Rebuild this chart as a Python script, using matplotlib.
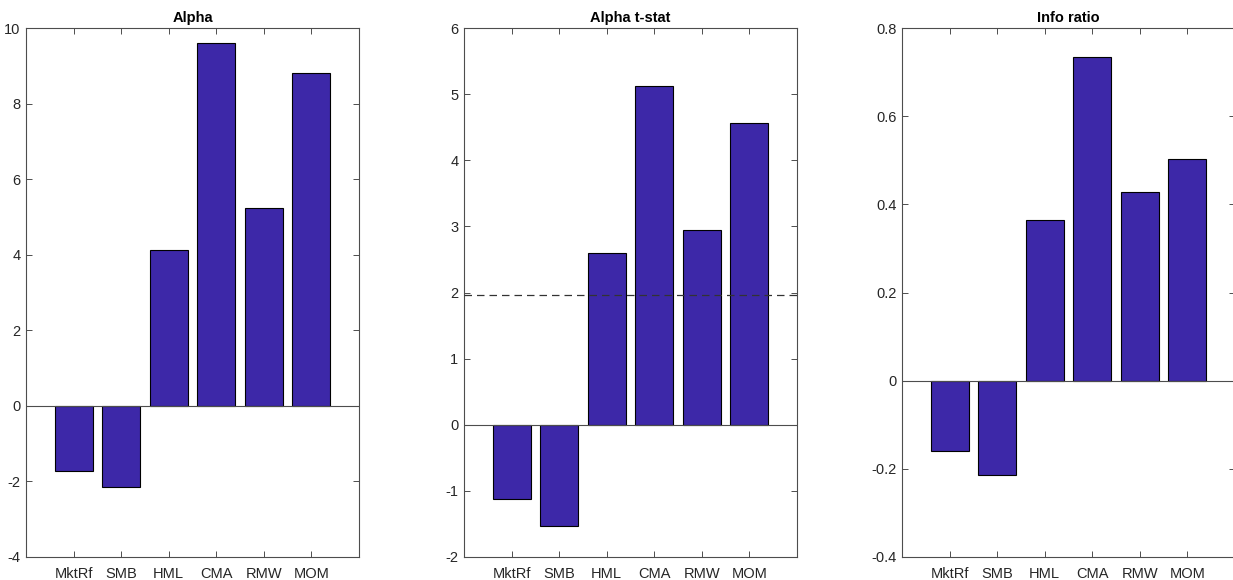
import matplotlib
matplotlib.use('Agg')
import matplotlib.pyplot as plt

plt.rcParams['font.family'] = ['Liberation Sans', 'DejaVu Sans']
plt.rcParams['font.size'] = 10

factors = ['MktRf', 'SMB', 'HML', 'CMA', 'RMW', 'MOM']
alpha = [-1.72, -2.16, 4.12, 9.59, 5.23, 8.80]
alpha_tstat = [-1.13, -1.53, 2.59, 5.12, 2.95, 4.56]
info_ratio = [-0.160, -0.215, 0.364, 0.735, 0.427, 0.502]
tcrit = 1.96

titles = ['Alpha', 'Alpha t-stat', 'Info ratio']
series = [alpha, alpha_tstat, info_ratio]
ylims = [(-4, 10), (-2, 6), (-0.4, 0.8)]
yticks = [[-4, -2, 0, 2, 4, 6, 8, 10],
          [-2, -1, 0, 1, 2, 3, 4, 5, 6],
          [-0.4, -0.2, 0, 0.2, 0.4, 0.6, 0.8]]
yticklabels = [['-4', '-2', '0', '2', '4', '6', '8', '10'],
               ['-2', '-1', '0', '1', '2', '3', '4', '5', '6'],
               ['-0.4', '-0.2', '0', '0.2', '0.4', '0.6', '0.8']]

bar_color = '#3d28a8'
axis_color = '#4d4d4d'

W, H = 1233, 580
fig = plt.figure(figsize=(W / 100, H / 100), dpi=100)
lefts = [26, 464, 902]                                   # axes positions in pixels
for i in range(3):
    ax = fig.add_axes([lefts[i] / W, (H - 557) / H, 333 / W, 529 / H])
    x = list(range(1, len(factors) + 1))
    ax.bar(x, series[i], width=0.8, color=bar_color, edgecolor='black', linewidth=0.8, zorder=2)
    ax.axhline(0, color=axis_color, linewidth=0.8, zorder=3)
    if i == 1:
        ax.axhline(tcrit, color='#333333', linestyle=(0, (6, 4)), linewidth=0.9, zorder=4)
    ax.set_xlim(0, 7)
    ax.set_ylim(*ylims[i])
    ax.set_xticks(x)
    ax.set_xticklabels(factors)
    ax.set_yticks(yticks[i])
    ax.set_yticklabels(yticklabels[i])
    ax.tick_params(direction='in', top=True, right=True, length=4, width=0.7,
                   colors=axis_color, labelcolor='#262626', labelsize=10.5)
    ax.tick_params(axis='x', pad=7)
    ax.tick_params(axis='y', pad=4)
    for s in ax.spines.values():
        s.set_color(axis_color)
        s.set_linewidth(0.8)
    ax.set_title(titles[i], fontweight='bold', fontsize=10.5, color='black', pad=4)

fig.savefig('out.png', dpi=100)
